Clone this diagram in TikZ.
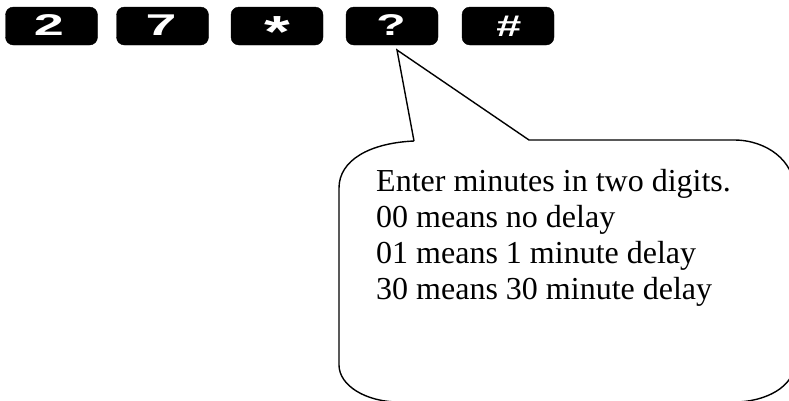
\documentclass[tikz,border=0pt]{standalone}
\usepackage{fontspec}
\setmainfont{Liberation Serif}
\newfontfamily\keyfont{Liberation Sans}
\usepackage{graphicx}
\begin{document}
\begin{tikzpicture}[x=1pt,y=-1pt,
  keybox/.style={fill=black,draw=black,rounded corners=8pt,minimum width=92pt,minimum height=38pt,inner sep=0pt},
  keylabel/.style={text=white,font=\keyfont\bfseries\fontsize{30}{30}\selectfont,inner sep=0pt,anchor=base},
  outline/.style={draw=black,line width=1.4pt,line join=miter},
  msg/.style={font=\fontsize{32}{36}\selectfont,align=left,inner sep=0pt,anchor=base west}]
\useasboundingbox (0,0) rectangle (789,400);
\clip (0,0) rectangle (789,400);
\fill[white] (0,0) rectangle (789,400);
% keys
\node[keybox] (k1) at (51.5,26) {};
\node[keybox] (k2) at (162.5,26) {};
\node[keybox] (k3) at (277,26) {};
\node[keybox] (k4) at (392,26) {};
\node[keybox] (k5) at (508,26) {};
\node[keylabel] (l1) at (49,35) {\scalebox{1.8}[1]{2}};
\node[keylabel] (l2) at (161,35) {\scalebox{1.85}[1]{7}};
\node[keylabel] (l3) at (277,47) {\scalebox{2.2}[1.5]{*}};
\node[keylabel] (l4) at (391,35) {\scalebox{1.6}[1]{?}};
\node[keylabel] (l5) at (509,36) {\scalebox{1.5}[1]{\#}};
% callout
\coordinate (tip) at (397,50);
\coordinate (bl) at (414,141);
\coordinate (br) at (529,140);
\draw[outline,fill=white] (bl) -- (tip) -- (br) -- (734,140)
  arc[start angle=-90,end angle=0,x radius=60,y radius=48]
  -- (794,365)
  arc[start angle=0,end angle=90,x radius=60,y radius=37]
  -- (399,402)
  arc[start angle=90,end angle=180,x radius=60,y radius=37]
  -- (339,188)
  .. controls (339,160) and (370,143) .. (bl);
% text
\node[msg] (txt) at (376,299) {Enter minutes in two digits.\\00 means no delay\\01 means 1 minute delay\\30 means 30 minute delay};
\end{tikzpicture}
\end{document}
